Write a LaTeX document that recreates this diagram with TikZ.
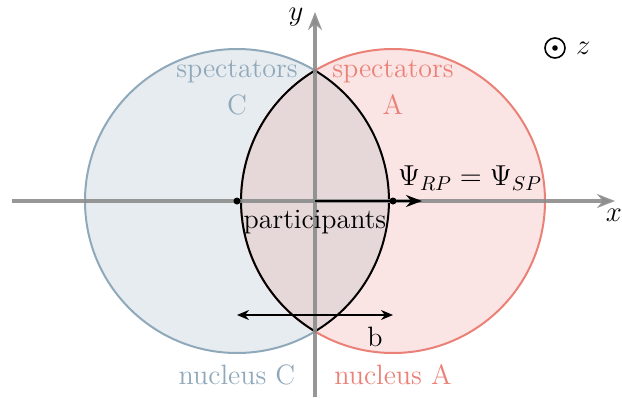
\documentclass[tikz,border=0pt]{standalone}
\usepackage{amsmath, amssymb}
\usepackage{tikz}
\usetikzlibrary{arrows.meta, positioning}

\definecolor{nucC}{HTML}{8FA8BA}
\definecolor{nucCfill}{HTML}{E7ECF0}
\definecolor{nucA}{HTML}{EB8076}
\definecolor{nucAfill}{HTML}{FAE4E4}
\definecolor{overlap}{HTML}{E6D8D8}
\definecolor{axisgray}{HTML}{8C8C8C}

\begin{document}
\begin{tikzpicture}[x=0.5pt, y=0.5pt,
    lbl/.style={font=\fontsize{14}{16}\selectfont, inner sep=1pt},
    axis/.style={line width=1.6pt, axisgray, opacity=0.9, -{Stealth[length=9pt, width=7pt]}},
    centre/.style={circle, fill=black, inner sep=0pt, minimum size=3.5pt}]
  \useasboundingbox (-315,-196) rectangle (307,201);
  % the two nuclei
  \draw[nucC, line width=1pt, fill=nucCfill] (-78,0) circle (152);
  \draw[nucA, line width=1pt, fill=nucAfill] (78,0) circle (152);
  % overlap region
  \coordinate (top) at (0,130.5);
  \coordinate (bot) at (0,-130.5);
  \draw[line width=1pt, fill=overlap]
    (top) arc[start angle=120.9, end angle=239.1, radius=152]
    arc[start angle=-59.1, end angle=59.1, radius=152] -- cycle;
  % axes
  \coordinate (xl) at (-303,0);
  \coordinate (xr) at (300,0);
  \coordinate (yb) at (0,-196);
  \coordinate (yt) at (0,189);
  \draw[axis] (xl) -- (xr);
  \draw[axis] (yb) -- (yt);
  \node[lbl, below] (xlab) at (299,-6) {$x$};
  \node[lbl] (ylab) at (-19,184) {$y$};
  % centres and reaction plane
  \node[centre] (cC) at (-78,0) {};
  \node[centre] (cA) at (78,0) {};
  \coordinate (o) at (0,0);
  \coordinate (psi) at (107,0);
  \draw[line width=1pt, -{Stealth[length=8pt, width=6pt]}] (o) -- (psi);
  \node[lbl] (psilab) at (155,23) {$\Psi_{RP} = \Psi_{SP}$};
  \node[lbl, text=black] (part) at (0,-21) {participants};
  % impact parameter
  \coordinate (bl) at (-78,-114);
  \coordinate (br) at (78,-114);
  \draw[line width=0.6pt, {Stealth[length=6pt, width=5pt]}-{Stealth[length=6pt, width=5pt]}] (bl) -- (br);
  \node[lbl] (blab) at (60,-136) {b};
  % labels
  \node[lbl, text=nucC] (specC) at (-78,129) {spectators};
  \node[lbl, text=nucC] (C) at (-78,96) {C};
  \node[lbl, text=nucA] (specA) at (78,129) {spectators};
  \node[lbl, text=nucA] (A) at (78,96) {A};
  \node[lbl, text=nucC] (nC) at (-78,-174) {nucleus C};
  \node[lbl, text=nucA] (nA) at (78,-174) {nucleus A};
  % z out of the page
  \node[circle, draw, line width=0.8pt, minimum size=10pt, inner sep=0pt] (zsym) at (240,153) {};
  \node[centre, minimum size=2.8pt] (zdot) at (zsym) {};
  \node[lbl, right=4pt of zsym] (zlab) {$z$};
\end{tikzpicture}
\end{document}
